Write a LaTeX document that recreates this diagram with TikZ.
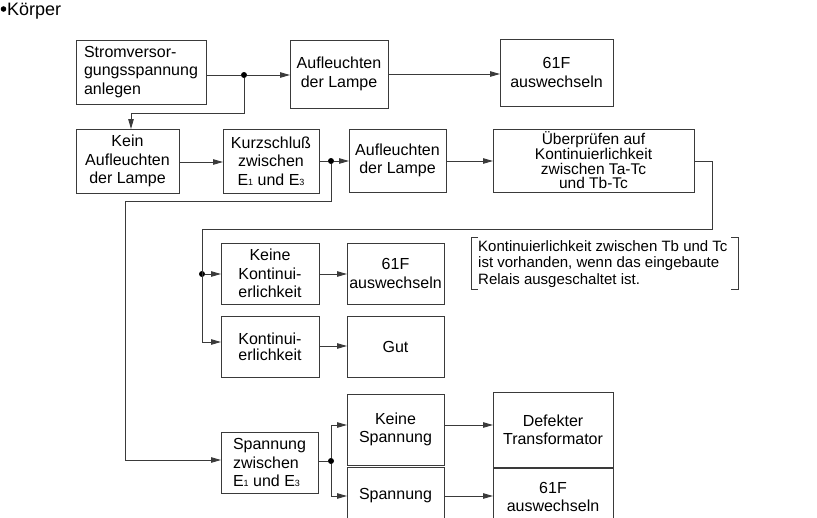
\documentclass[tikz,border=0pt]{standalone}
\usepackage{fontspec}
\setmainfont{Liberation Sans}
\usetikzlibrary{arrows.meta}
\definecolor{lc}{HTML}{3A3A3A}
% electrode label with a small index digit on the baseline
\newcommand{\electrode}[1]{E{\fontsize{9}{9}\selectfont #1}}
% \flowbox[options]{name}{x1}{y1}{x2}{y2}{text}
\newcommand{\flowbox}[7][]{%
  \node[box,minimum width={#5-#3},minimum height={#6-#4},#1] (#2) at ({(#3+#5)/2},{(#4+#6)/2}) {#7};}

\begin{document}
\begin{tikzpicture}[x=1pt,y=-1pt,
  box/.style={draw=lc, line width=0.9pt, inner sep=0pt, outer sep=0pt, align=center,
              font=\fontsize{16}{18.5}\selectfont},
  link/.style={draw=lc, line width=0.9pt},
  arr/.style={link, -{Triangle[length=10pt,width=5.5pt]}},
  junction/.style={circle, fill=black, inner sep=0pt, minimum size=6pt}]
\useasboundingbox (0,0) rectangle (817,517);
\clip (0,0) rectangle (817,517);

% heading
\fill (3.5,9) circle (2.8);
\node[anchor=base west, inner sep=0pt, font=\fontsize{18}{20}\selectfont] (title) at (7,15) {Körper};

% boxes
\flowbox[align=left]{A}{76}{40}{206}{104}{Stromversor-\\gungsspannung\\anlegen}
\flowbox{B}{290}{40}{388}{108}{Aufleuchten\\der Lampe}
\flowbox{C}{500}{39}{613}{106}{61F\\auswechseln}
\flowbox{D}{76}{129}{179}{193}{Kein\\Aufleuchten\\der Lampe}
\flowbox{E}{223}{129}{319}{193}{Kurzschluß\\zwischen\\\electrode{1} und \electrode{3}}
\flowbox{F}{349}{129}{446}{192}{Aufleuchten\\der Lampe}
\flowbox[font=\fontsize{15.5}{14.7}\selectfont]{G}{493}{129}{694}{192}{Überprüfen auf\\Kontinuierlichkeit\\zwischen Ta-Tc\\und Tb-Tc}
\flowbox{H}{221}{243}{319}{304}{Keine\\Kontinui-\\erlichkeit}
\flowbox{J}{347}{243}{444}{304}{61F\\auswechseln}
\flowbox[font=\fontsize{16}{16}\selectfont]{I}{221}{316}{319}{377}{Kontinui-\\erlichkeit}
\flowbox{K}{347}{316}{444}{377}{Gut}
\flowbox[align=left]{L}{221}{432}{318}{493}{Spannung\\zwischen\\\electrode{1} und \electrode{3}}
\flowbox{M}{347}{394}{444}{465}{Keine\\Spannung}
\flowbox{N}{493}{392}{613}{468}{Defekter\\Transformator}
\flowbox{O}{347}{467}{444}{560}{}
\node[font=\fontsize{16}{18.5}\selectfont] (Otext) at (395.5,496) {Spannung};
\flowbox{P}{493}{467}{613}{560}{}
\node[align=center, font=\fontsize{16}{18.5}\selectfont] (Ptext) at (553,497) {61F\\auswechseln};

% note with square brackets
\node[anchor=west, align=left, inner sep=0pt, font=\fontsize{15}{16.5}\selectfont] (note) at (478,264)
  {Kontinuierlichkeit zwischen Tb und Tc\\ist vorhanden, wenn das eingebaute\\Relais ausgeschaltet ist.};
\draw[link, line width=0.7pt] (478,237) -- (471,237) -- (471,289) -- (478,289);
\draw[link, line width=0.7pt] (731,237) -- (738,237) -- (738,289) -- (731,289);

% junctions
\node[junction] (j1) at (244,75) {};
\node[junction] (j2) at (331,161) {};
\node[junction] (j3) at (202,274) {};
\node[junction] (j4) at (331,461) {};

% connectors
\draw[link] (A.east |- j1) -- (j1);
\draw[arr] (j1) -- (B.west |- j1);
\draw[arr] (B.east |- 0,74) -- (C.west |- 0,74);
\draw[arr] (j1) -- (244,113) -- (131,113) -- (D.north -| 131,0);
\draw[arr] (D.east |- 0,162) -- (E.west |- 0,162);
\draw[link] (E.east |- j2) -- (j2);
\draw[arr] (j2) -- (F.west |- j2);
\draw[arr] (F.east |- 0,161) -- (G.west |- 0,161);
\draw[arr] (j2) -- (331,201) -- (125,201) -- (125,460) -- (L.west |- 0,460);
\draw[arr] (G.east |- 0,161) -- (712,161) -- (712,229) -- (202,229) -- (202,342) -- (I.west |- 0,342);
\draw[arr] (j3) -- (H.west |- j3);
\draw[arr] (H.east |- 0,274) -- (J.west |- 0,274);
\draw[arr] (I.east |- 0,346) -- (K.west |- 0,346);
\draw[link] (L.east |- j4) -- (j4);
\draw[arr] (j4) -- (331,425) -- (M.west |- 0,425);
\draw[arr] (j4) -- (331,496) -- (O.west |- 0,496);
\draw[arr] (M.east |- 0,425) -- (N.west |- 0,425);
\draw[arr] (O.east |- 0,496) -- (P.west |- 0,496);
\end{tikzpicture}
\end{document}
